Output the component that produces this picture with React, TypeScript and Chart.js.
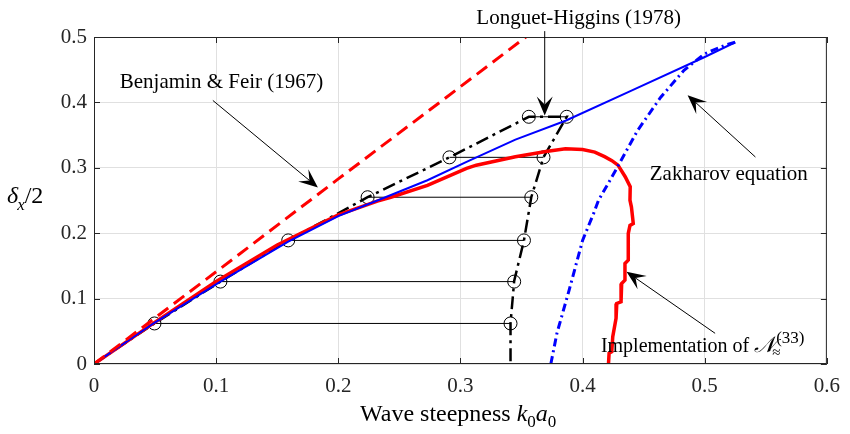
import React, { useEffect, useRef } from 'react';
import { Chart, registerables } from 'chart.js';

Chart.register(...registerables);

const FONT = '"Liberation Serif", "Times New Roman", serif';

// Tick values
const xTicks = [0, 0.1, 0.2, 0.3, 0.4, 0.5, 0.6];
const yTicks = [0, 0.1, 0.2, 0.3, 0.4, 0.5];

// Benjamin & Feir (1967) - red dashed
const bfX = [0, 0.1, 0.2, 0.3, 0.362];
const bfY = [0, 0.141, 0.283, 0.424, 0.512];

// Zakharov equation - upper branch (blue solid)
const zakUpX = [0, 0.0495, 0.1035, 0.159, 0.2, 0.232, 0.273, 0.305, 0.345, 0.386, 0.44, 0.4996, 0.525];
const zakUpY = [0, 0.063, 0.126, 0.187, 0.226, 0.25, 0.281, 0.309, 0.343, 0.372, 0.418, 0.469, 0.492];

// Zakharov equation - lower branch (blue dash-dot)
const zakLoX = [0.374, 0.379, 0.389, 0.4, 0.409, 0.413, 0.427, 0.445, 0.464, 0.483, 0.4996, 0.516, 0.525];
const zakLoY = [0, 0.047, 0.113, 0.189, 0.23, 0.25, 0.296, 0.357, 0.408, 0.449, 0.474, 0.487, 0.492];

// Implementation of N (red solid)
const implX = [0, 0.05, 0.1, 0.15, 0.2, 0.232, 0.243, 0.273, 0.305, 0.313, 0.345, 0.37, 0.386, 0.4, 0.41, 0.418, 0.424, 0.429, 0.435, 0.439, 0.4388, 0.44, 0.4415, 0.4388, 0.4374, 0.4374, 0.4347, 0.4347, 0.432, 0.4315, 0.428, 0.4274, 0.4247, 0.4239, 0.4217, 0.4212];
const implY = [0, 0.064, 0.126, 0.182, 0.228, 0.249, 0.255, 0.273, 0.299, 0.304, 0.317, 0.325, 0.329, 0.328, 0.324, 0.317, 0.311, 0.304, 0.286, 0.271, 0.2504, 0.24, 0.2148, 0.212, 0.1995, 0.1588, 0.1537, 0.1282, 0.123, 0.0951, 0.0926, 0.0697, 0.0417, 0.0188, 0.0163, 0];

// Longuet-Higgins (1978) - black dash-dot
const lhX = [0, 0.0495, 0.1035, 0.159, 0.224, 0.291, 0.356, 0.387, 0.368, 0.358, 0.352, 0.344, 0.341, 0.341];
const lhY = [0, 0.062, 0.126, 0.189, 0.255, 0.316, 0.378, 0.378, 0.316, 0.255, 0.189, 0.127, 0.062, 0];

// Circle markers and connecting horizontal lines
const circLeftX = [0.0495, 0.1035, 0.159, 0.224, 0.291, 0.356];
const circRightX = [0.341, 0.344, 0.352, 0.358, 0.368, 0.387];
const circY = [0.062, 0.126, 0.189, 0.255, 0.316, 0.378];

// Annotations
const labelTexts = ['Benjamin & Feir (1967)', 'Longuet-Higgins (1978)', 'Zakharov equation'];
const labelX = [0.0211, 0.313, 0.455];
const labelY = [0.4224, 0.52, 0.281];
const implLabelX = 0.415;
const implLabelY = 0.0188;

const arrowFromX = [0.0973, 0.369, 0.5415, 0.5085];
const arrowFromY = [0.403, 0.509, 0.3165, 0.0469];
const arrowToX = [0.1833, 0.369, 0.486, 0.436];
const arrowToY = [0.27, 0.38, 0.411, 0.141];

const pts = (xs: number[], ys: number[]) => xs.map((x, i) => ({ x, y: ys[i] }));
const fmt = (v: number) => (v === 0 ? '0' : (Math.round(v * 10) / 10).toFixed(1));

function drawArrow(ctx: CanvasRenderingContext2D, x1: number, y1: number, x2: number, y2: number) {
  const ang = Math.atan2(y2 - y1, x2 - x1);
  const L = 19, W = 8, N = 11;
  const c = Math.cos(ang), s = Math.sin(ang);
  const bx = x2 - N * c, by = y2 - N * s;
  ctx.save();
  ctx.strokeStyle = '#000';
  ctx.lineWidth = 1;
  ctx.beginPath();
  ctx.moveTo(x1, y1);
  ctx.lineTo(bx, by);
  ctx.stroke();
  ctx.fillStyle = '#000';
  ctx.beginPath();
  ctx.moveTo(x2, y2);
  ctx.lineTo(x2 - L * c - W * s, y2 - L * s + W * c);
  ctx.lineTo(bx, by);
  ctx.lineTo(x2 - L * c + W * s, y2 - L * s - W * c);
  ctx.closePath();
  ctx.fill();
  ctx.restore();
}

const decorPlugin = {
  id: 'decor',
  afterDraw(chart: any) {
    const ctx: CanvasRenderingContext2D = chart.ctx;
    const { left, right, top, bottom } = chart.chartArea;
    const xs = chart.scales.x;
    const ys = chart.scales.y;
    ctx.save();
    // box
    ctx.strokeStyle = '#262626';
    ctx.lineWidth = 1;
    ctx.strokeRect(left + 0.5, top + 0.5, right - left - 1, bottom - top - 1);
    // inward ticks
    ctx.beginPath();
    const tl = 6;
    xTicks.forEach((v) => {
      const px = Math.round(xs.getPixelForValue(v)) + 0.5;
      ctx.moveTo(px, bottom);
      ctx.lineTo(px, bottom - tl);
      ctx.moveTo(px, top);
      ctx.lineTo(px, top + tl);
    });
    yTicks.forEach((v) => {
      const py = Math.round(ys.getPixelForValue(v)) + 0.5;
      ctx.moveTo(left, py);
      ctx.lineTo(left + tl, py);
      ctx.moveTo(right, py);
      ctx.lineTo(right - tl, py);
    });
    ctx.stroke();

    // arrows
    arrowFromX.forEach((fx, i) => {
      drawArrow(
        ctx,
        xs.getPixelForValue(fx),
        ys.getPixelForValue(arrowFromY[i]),
        xs.getPixelForValue(arrowToX[i]),
        ys.getPixelForValue(arrowToY[i])
      );
    });

    // annotation texts
    ctx.fillStyle = '#000';
    ctx.textBaseline = 'alphabetic';
    ctx.textAlign = 'left';
    ctx.font = `21px ${FONT}`;
    labelTexts.forEach((t, i) => {
      ctx.fillText(t, xs.getPixelForValue(labelX[i]), ys.getPixelForValue(labelY[i]));
    });

    // Implementation of N
    let cx = xs.getPixelForValue(implLabelX);
    const by = ys.getPixelForValue(implLabelY);
    ctx.font = `20px ${FONT}`;
    const main = 'Implementation of ';
    ctx.fillText(main, cx, by);
    cx += ctx.measureText(main).width;
    ctx.font = `italic 22px ${FONT}`;
    ctx.fillText('\u{1D4A9}', cx, by);
    cx += ctx.measureText('\u{1D4A9}').width;
    ctx.font = `15px ${FONT}`;
    ctx.fillText('\u2248', cx - 3, by + 5);
    ctx.font = `17px ${FONT}`;
    ctx.fillText('(33)', cx + 1, by - 9);

    // x-axis title
    let tx = 360;
    const tyb = 421;
    ctx.font = `24px ${FONT}`;
    ctx.fillText('Wave steepness ', tx, tyb);
    tx += ctx.measureText('Wave steepness ').width;
    ctx.font = `italic 24px ${FONT}`;
    ctx.fillText('k', tx, tyb);
    tx += ctx.measureText('k').width;
    ctx.font = `17px ${FONT}`;
    ctx.fillText('0', tx, tyb + 6);
    tx += ctx.measureText('0').width;
    ctx.font = `italic 24px ${FONT}`;
    ctx.fillText('a', tx, tyb);
    tx += ctx.measureText('a').width;
    ctx.font = `17px ${FONT}`;
    ctx.fillText('0', tx, tyb + 6);

    // y-axis title
    let yx = 7;
    const yyb = 203;
    ctx.font = `italic 24px ${FONT}`;
    ctx.fillText('\u03B4', yx, yyb);
    yx += ctx.measureText('\u03B4').width;
    ctx.font = `italic 17px ${FONT}`;
    ctx.fillText('x', yx - 1, yyb + 7);
    yx += ctx.measureText('x').width - 1;
    ctx.font = `24px ${FONT}`;
    ctx.fillText('/2', yx, yyb);
    ctx.restore();
  },
};

export default function App() {
  const ref = useRef<HTMLCanvasElement | null>(null);
  useEffect(() => {
    if (!ref.current) return;
    const hLines = circY.map((y, i) => ({
      data: [{ x: circLeftX[i], y }, { x: circRightX[i], y }],
      showLine: true,
      borderColor: '#000',
      borderWidth: 1,
      pointRadius: 0,
      order: 10,
    }));
    const chart = new Chart(ref.current, {
      type: 'scatter',
      data: {
        datasets: [
          {
            data: pts(zakLoX, zakLoY),
            showLine: true,
            borderColor: '#0000ff',
            borderWidth: 3,
            borderDash: [8, 4, 2, 4],
            pointRadius: 0,
            order: 1,
          },
          {
            data: pts(bfX, bfY),
            showLine: true,
            borderColor: '#ff0000',
            borderWidth: 3,
            borderDash: [13, 7],
            pointRadius: 0,
            order: 2,
          },
          {
            data: pts(zakUpX, zakUpY),
            showLine: true,
            borderColor: '#0000ff',
            borderWidth: 2,
            pointRadius: 0,
            order: 3,
          },
          {
            data: pts(implX, implY),
            showLine: true,
            borderColor: '#ff0000',
            borderWidth: 3.5,
            pointRadius: 0,
            order: 4,
          },
          {
            data: pts(lhX, lhY),
            showLine: true,
            borderColor: '#000',
            borderWidth: 2.5,
            borderDash: [13, 5, 3, 5],
            pointRadius: 0,
            order: 5,
          },
          {
            data: [...pts(circLeftX, circY), ...pts(circRightX, circY)],
            showLine: false,
            pointRadius: 6.5,
            pointStyle: 'circle',
            pointBorderColor: '#000',
            pointBackgroundColor: 'rgba(0,0,0,0)',
            pointBorderWidth: 1,
            order: 6,
          },
          ...hLines,
        ] as any,
      },
      options: {
        responsive: false,
        animation: false,
        events: [],
        layout: { padding: { left: 0, right: 16, top: 37, bottom: 0 }, autoPadding: false },
        plugins: { legend: { display: false }, tooltip: { enabled: false } },
        scales: {
          x: {
            type: 'linear',
            position: 'bottom',
            min: 0,
            max: 0.6,
            afterBuildTicks: (s: any) => {
              s.ticks = xTicks.map((v) => ({ value: v }));
            },
            afterFit: (s: any) => {
              s.height = 70;
            },
            ticks: {
              font: { family: FONT, size: 21 },
              color: '#262626',
              padding: 10,
              maxRotation: 0,
              autoSkip: false,
              callback: (v: any) => fmt(Number(v)),
            },
            grid: { color: '#e0e0e0', lineWidth: 1, drawTicks: false },
            border: { display: false },
          },
          y: {
            type: 'linear',
            min: 0,
            max: 0.5,
            afterBuildTicks: (s: any) => {
              s.ticks = yTicks.map((v) => ({ value: v }));
            },
            afterFit: (s: any) => {
              s.width = 94;
            },
            ticks: {
              font: { family: FONT, size: 21 },
              color: '#262626',
              padding: 7,
              autoSkip: false,
              callback: (v: any) => fmt(Number(v)),
            },
            grid: { color: '#e0e0e0', lineWidth: 1, drawTicks: false },
            border: { display: false },
          },
        },
      } as any,
      plugins: [decorPlugin],
    });
    return () => chart.destroy();
  }, []);
  return (
    <div style={{ position: 'absolute', left: 0, top: 0, width: 850, height: 434, background: '#fff' }}>
      <canvas ref={ref} width={850} height={434} style={{ display: 'block' }} />
    </div>
  );
}
